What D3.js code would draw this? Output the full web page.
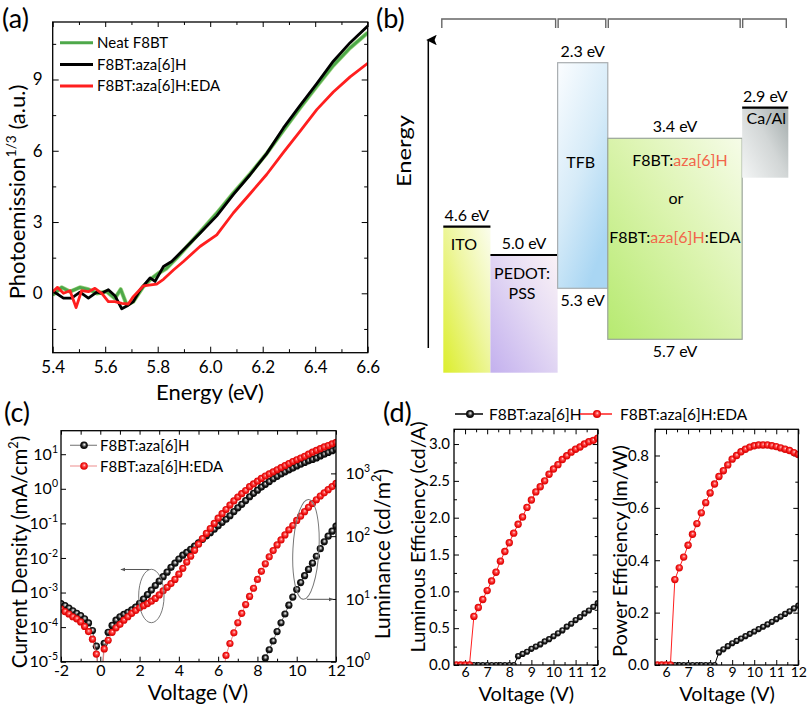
<!DOCTYPE html>
<html><head><meta charset="utf-8">
<script src="https://cdn.jsdelivr.net/npm/d3@7"></script>
<style>
body{margin:0;background:#fff}
svg{display:block}
</style></head><body>
<svg id="fig" width="808" height="705"></svg>
<script>
// ===================== DATA =====================
// (a) photoemission^(1/3) vs energy (eV)
const upsSeriesNames = ['Neat F8BT', 'F8BT:aza[6]H', 'F8BT:aza[6]H:EDA'];
const upsNeatE = [5.40,5.434,5.466,5.504,5.536,5.568,5.606,5.637,5.659,5.682,5.707,5.745,5.777,5.802,5.834,5.872,5.961,6.025,6.088,6.152,6.215,6.279,6.342,6.406,6.469,6.533,6.60];
const upsNeatY = [-0.07,0.25,0.07,0.25,0.17,0.0,0.07,-0.21,0.17,-0.49,-0.35,0.28,0.63,0.84,1.05,1.48,2.57,3.37,4.22,5.03,5.88,6.86,7.80,8.72,9.59,10.33,10.97];
const upsAzaE = [5.40,5.441,5.472,5.504,5.536,5.568,5.587,5.612,5.637,5.663,5.688,5.707,5.733,5.771,5.790,5.822,5.853,5.898,5.961,6.025,6.088,6.152,6.215,6.279,6.342,6.406,6.469,6.533,6.60];
const upsAzaY = [0.10,-0.20,-0.20,0.05,-0.20,0.05,0.00,0.15,-0.10,-0.65,-0.50,-0.35,0.15,0.65,0.50,1.13,1.34,1.83,2.53,3.26,4.15,4.99,5.88,6.96,7.90,8.83,9.77,10.55,11.25];
const upsEdaE = [5.40,5.418,5.441,5.466,5.489,5.510,5.536,5.561,5.587,5.612,5.637,5.663,5.688,5.707,5.745,5.796,5.822,5.860,5.898,5.961,6.025,6.088,6.152,6.215,6.279,6.342,6.406,6.469,6.533,6.60];
const upsEdaY = [0.07,0.25,0.00,0.11,-0.60,0.11,0.07,0.21,0.00,-0.35,-0.35,-0.42,-0.45,-0.14,0.31,0.39,0.59,0.98,1.34,1.97,2.46,3.38,4.19,5.00,5.93,6.82,7.73,8.47,9.11,9.68];
const upsXTicks = [5.4,5.6,5.8,6.0,6.2,6.4,6.6];
const upsXMinor = [5.5,5.7,5.9,6.1,6.3,6.5];
const upsYTicks = [0,3,6,9];
const upsYMinor = [-1.5,1.5,4.5,7.5,10.5];

// (b) energy levels (eV)
const layerNames = ['ITO', 'PEDOT:PSS', 'TFB', 'F8BT blend', 'Ca/Al'];
const layerUpper = [4.6, 5.0, 2.3, 3.4, 2.9];
const layerLower = [null, null, 5.3, 5.7, null];

// (c) J-V-L : voltage grid and log10 values
const jvVoltage = [-2,-1.8,-1.6,-1.4,-1.2,-1,-0.8,-0.6,-0.4,-0.2,0,0.2,0.4,0.6,0.8,1,1.2,1.4,1.6,1.8,2,2.2,2.4,2.6,2.8,3,3.2,3.4,3.6,3.8,4,4.2,4.4,4.6,4.8,5,5.2,5.4,5.6,5.8,6,6.2,6.4,6.6,6.8,7,7.2,7.4,7.6,7.8,8,8.2,8.4,8.6,8.8,9,9.2,9.4,9.6,9.8,10,10.2,10.4,10.6,10.8,11,11.2,11.4,11.6,11.8,12];
const jAzaLog = [-3.32,-3.38,-3.45,-3.53,-3.60,-3.67,-3.76,-3.88,-4.10,-4.55,-6,-4.47,-4.15,-3.95,-3.80,-3.70,-3.63,-3.57,-3.50,-3.42,-3.31,-3.19,-3.06,-2.93,-2.80,-2.67,-2.54,-2.41,-2.27,-2.15,-2.03,-1.92,-1.84,-1.75,-1.66,-1.56,-1.46,-1.36,-1.27,-1.17,-1.07,-0.97,-0.88,-0.78,-0.66,-0.55,-0.45,-0.34,-0.23,-0.13,-0.04,0.05,0.13,0.21,0.29,0.36,0.43,0.49,0.55,0.60,0.66,0.71,0.76,0.81,0.85,0.89,0.95,1.00,1.05,1.10,1.15];
const jEdaLog = [-3.48,-3.55,-3.62,-3.70,-3.76,-3.85,-3.98,-4.13,-4.35,-4.78,-6,-4.63,-4.38,-4.15,-4.02,-3.92,-3.80,-3.70,-3.60,-3.52,-3.44,-3.38,-3.32,-3.25,-3.17,-3.07,-2.95,-2.85,-2.74,-2.62,-2.47,-2.30,-2.12,-1.95,-1.78,-1.60,-1.44,-1.29,-1.15,-1.00,-0.85,-0.72,-0.60,-0.47,-0.35,-0.24,-0.14,-0.05,0.06,0.14,0.22,0.30,0.37,0.43,0.49,0.55,0.61,0.67,0.73,0.79,0.84,0.89,0.94,1.00,1.06,1.11,1.16,1.21,1.25,1.30,1.34];
const lEdaVoltage = [6.2,6.4,6.6,6.8,7,7.2,7.4,7.6,7.8,8,8.2,8.4,8.6,8.8,9,9.2,9.4,9.6,9.8,10,10.2,10.4,10.6,10.8,11,11.2,11.4,11.6,11.8,12];
const lEdaLog = [-0.35,0.10,0.29,0.46,0.62,0.77,0.91,1.04,1.17,1.31,1.44,1.56,1.67,1.77,1.86,1.94,2.02,2.10,2.17,2.25,2.32,2.39,2.46,2.52,2.58,2.64,2.69,2.74,2.79,2.84];
const lAzaVoltage = [8.2,8.4,8.6,8.8,9,9.2,9.4,9.6,9.8,10,10.2,10.4,10.6,10.8,11,11.2,11.4,11.6,11.8,12];
const lAzaLog = [-0.40,0.06,0.19,0.33,0.48,0.62,0.76,0.90,1.03,1.15,1.26,1.37,1.47,1.57,1.68,1.80,1.91,2.00,2.08,2.16];
const jvXTicks = [-2,0,2,4,6,8,10,12];
const jvXMinor = [-1,1,3,5,7,9,11];
const jTicks = [1e-5,1e-4,1e-3,1e-2,1e-1,1,10];
const lTicks = [1,10,100,1000];

// (d) efficiencies
const effAzaVoltage = [5.6,5.8,6,6.2,6.4,6.6,6.8,7,7.2,7.4,7.6,7.8,8,8.2,8.4,8.6,8.8,9,9.2,9.4,9.6,9.8,10,10.2,10.4,10.6,10.8,11,11.2,11.4,11.6,11.8,12];
const leAza = [0,0,0,0,0,0,0,0,0,0,0,0,0,0,0.12,0.15,0.18,0.22,0.25,0.28,0.32,0.35,0.39,0.43,0.47,0.52,0.56,0.61,0.65,0.70,0.74,0.79,0.84];
const peAza = [0,0,0,0,0,0,0,0,0,0,0,0,0,0,0.048,0.060,0.072,0.083,0.092,0.101,0.110,0.119,0.128,0.137,0.146,0.155,0.165,0.175,0.185,0.195,0.205,0.216,0.227];
const effEdaVoltage = [5.6,5.8,6,6.2,6.4,6.6,6.8,7,7.2,7.4,7.6,7.8,8,8.2,8.4,8.6,8.8,9,9.2,9.4,9.6,9.8,10,10.2,10.4,10.6,10.8,11,11.2,11.4,11.6,11.8,12];
const leEda = [0,0,0,0,0.66,0.78,0.89,1.01,1.14,1.26,1.41,1.54,1.66,1.79,1.91,2.01,2.14,2.24,2.35,2.42,2.50,2.59,2.66,2.72,2.79,2.84,2.89,2.93,2.96,3.00,3.03,3.05,3.08];
const peEda = [0,0,0,0,0.326,0.371,0.412,0.457,0.499,0.540,0.581,0.620,0.657,0.691,0.720,0.742,0.764,0.786,0.800,0.814,0.824,0.832,0.837,0.840,0.840,0.840,0.837,0.834,0.829,0.824,0.819,0.811,0.804];
const effXTicks = [6,7,8,9,10,11,12];
const effXMinor = [5.5,6.5,7.5,8.5,9.5,10.5,11.5];
const leTicks = [0,0.5,1,1.5,2,2.5,3];
const leMinor = [0.25,0.75,1.25,1.75,2.25,2.75];
const peTicks = [0,0.2,0.4,0.6,0.8];
const peMinor = [0.1,0.3,0.5,0.7];
const devNames = ['F8BT:aza[6]H', 'F8BT:aza[6]H:EDA'];

// ===================== STYLE / HELPERS =====================
const FONT = "Lato, 'Open Sans', sans-serif";
const RED = '#ff1f1f', GREEN = '#4ea84a', BLACK = '#000', ACCENT = '#f2664a';
const svg = d3.select('#fig').attr('font-family', FONT);
svg.append('rect').attr('width',808).attr('height',705).attr('fill','#fff');
const defs = svg.append('defs');

function clip(id, x0, y0, x1, y1) {
  defs.append('clipPath').attr('id', id).append('rect')
    .attr('x', x0).attr('y', y0).attr('width', x1 - x0).attr('height', y1 - y0);
  return `url(#${id})`;
}
function addAxis(parent, orient, scale, pos, values, size, fmt, pad, fs) {
  const maker = {bottom: d3.axisBottom, top: d3.axisTop, left: d3.axisLeft, right: d3.axisRight}[orient];
  const gen = maker(scale).tickValues(values).tickSizeInner(-size).tickSizeOuter(0)
    .tickPadding(pad || 0).tickFormat(fmt || (() => ''));
  const tr = (orient === 'bottom' || orient === 'top') ? `translate(0,${pos})` : `translate(${pos},0)`;
  const g = parent.append('g').attr('transform', tr).call(gen)
    .attr('font-family', FONT).attr('font-size', fs || 16);
  g.select('.domain').remove();
  g.selectAll('line').attr('stroke', '#000').attr('stroke-width', 1);
  g.selectAll('text').attr('fill', '#000');
  if (!fmt) g.selectAll('text').remove();
  return g;
}
function powLabels(g, sup) {
  g.selectAll('.tick text').each(function (d) {
    const t = d3.select(this); t.text(null);
    t.append('tspan').text('10');
    t.append('tspan').attr('dy', -7).attr('font-size', sup).text(Math.round(Math.log10(d)));
  });
}
function rotTitle(parent, x, y, segs, size) {
  const t = parent.append('text').attr('transform', `translate(${x},${y}) rotate(-90)`)
    .attr('text-anchor', 'middle').attr('font-size', size).attr('fill', '#000');
  let shifted = false;
  segs.forEach(s => {
    const sp = t.append('tspan').text(s.t);
    if (s.sup) { sp.attr('font-size', size * 0.62).attr('dy', -size * 0.42); shifted = true; }
    else if (shifted) { sp.attr('dy', size * 0.42); shifted = false; }
  });
  return t;
}
function frame(parent, x0, y0, x1, y1) {
  parent.append('rect').attr('x', x0).attr('y', y0).attr('width', x1 - x0).attr('height', y1 - y0)
    .attr('fill', 'none').attr('stroke', '#000').attr('stroke-width', 1.3);
}
function panelLabel(txt, x, y) {
  svg.append('text').attr('x', x).attr('y', y).attr('font-size', 27).attr('fill', '#000').text(txt);
}
// ball-like marker gradients
function ball(id, stops) {
  const g = defs.append('radialGradient').attr('id', id).attr('cx', '50%').attr('cy', '50%').attr('r', '55%')
    .attr('fx', '55%').attr('fy', '38%');
  stops.forEach(s => g.append('stop').attr('offset', s[0]).attr('stop-color', s[1]));
}
ball('ballRed', [['0%', '#ffe6e6'], ['28%', '#ff5a5a'], ['65%', '#f01010'], ['100%', '#c80000']]);
ball('ballBlack', [['0%', '#ffffff'], ['25%', '#9a9a9a'], ['55%', '#1c1c1c'], ['100%', '#000000']]);

// ===================== PANEL (a) =====================
const gA = svg.append('g');
const xA = d3.scaleLinear().domain([5.4, 6.6]).range([52.7, 367.7]);
const yA = d3.scaleLinear().domain([-2.5, 11.42]).range([352.7, 22]);
addAxis(gA, 'bottom', xA, yA.range()[0], upsXTicks, 6, d => d.toFixed(1), 8.5, 17);
addAxis(gA, 'bottom', xA, yA.range()[0], upsXMinor, 3.5);
addAxis(gA, 'top', xA, yA.range()[1], upsXTicks, 5);
addAxis(gA, 'top', xA, yA.range()[1], upsXMinor, 3);
addAxis(gA, 'left', yA, xA.range()[0], upsYTicks, 6, d => d, 10, 17);
addAxis(gA, 'left', yA, xA.range()[0], upsYMinor, 3.5);
addAxis(gA, 'right', yA, xA.range()[1], upsYTicks, 6);
addAxis(gA, 'right', yA, xA.range()[1], upsYMinor, 3.5);
const clipA = clip('clipA', 52.7, 22, 367.7, 352.7);
const lineA = d3.line().x(d => xA(d[0])).y(d => yA(d[1]));
const upsSeries = [
  {name: upsSeriesNames[0], e: upsNeatE, y: upsNeatY, color: GREEN},
  {name: upsSeriesNames[1], e: upsAzaE, y: upsAzaY, color: BLACK},
  {name: upsSeriesNames[2], e: upsEdaE, y: upsEdaY, color: RED}
];
const pathsA = gA.append('g').attr('clip-path', clipA);
upsSeries.forEach(s => {
  if (s.color === GREEN)
    pathsA.append('path').attr('d', lineA(d3.zip(s.e, s.y))).attr('fill', 'none')
      .attr('stroke', '#9bd47e').attr('stroke-width', 4.2).attr('stroke-linejoin', 'round');
  pathsA.append('path').attr('d', lineA(d3.zip(s.e, s.y))).attr('fill', 'none')
    .attr('stroke', s.color).attr('stroke-width', 2.8).attr('stroke-linejoin', 'round');
});
frame(gA, 52.7, 22, 367.7, 352.7);
const legA = gA.append('g');
upsSeries.forEach((s, i) => {
  const y = 42.7 + i * 21.7;
  legA.append('line').attr('x1', 60).attr('x2', 93).attr('y1', y).attr('y2', y)
    .attr('stroke', s.color).attr('stroke-width', 3);
  legA.append('text').attr('x', 97).attr('y', y + 5.3).attr('font-size', 15).text(s.name);
});
gA.append('text').attr('x', 210).attr('y', 400).attr('text-anchor', 'middle').attr('font-size', 22).text('Energy (eV)');
rotTitle(gA, 25, 192, [{t: 'Photoemission'}, {t: '1/3', sup: true}, {t: ' (a.u.)'}], 22);
panelLabel('(a)', 2, 28);

// ===================== PANEL (b) =====================
const gB = svg.append('g');
panelLabel('(b)', 376, 28);
const yB = d3.scaleLinear().domain([2.3, 2.9, 3.4, 4.6, 5.0, 5.3, 5.7])
  .range([62.7, 107.7, 138.3, 226.7, 255, 288.3, 339.3]);   // schematic (not to scale)
const layerWidthUnits = [47, 67, 50, 134, 46];
const cum = [0]; layerWidthUnits.forEach(w => cum.push(cum[cum.length - 1] + w));
const xB = d3.scaleLinear().domain([0, cum[cum.length - 1]]).range([443.3, 788.3]);
const panelBottom = 372.7, metalDepth = 70;
function lin(id, x1, y1, x2, y2, stops) {
  const g = defs.append('linearGradient').attr('id', id).attr('x1', x1).attr('y1', y1).attr('x2', x2).attr('y2', y2);
  stops.forEach(s => g.append('stop').attr('offset', s[0]).attr('stop-color', s[1]));
  return `url(#${id})`;
}
const fills = [
  lin('gITO', 0, 1, 1, 0, [['0%', '#dcee2c'], ['55%', '#eef6a0'], ['100%', '#fbfdee']]),
  lin('gPED', 0, 1, 1, 0, [['0%', '#c3b0ee'], ['60%', '#e6dcf4'], ['100%', '#faf2f6']]),
  lin('gTFB', 0, 0, 0.6, 1, [['0%', '#fbfdff'], ['55%', '#d6ebf8'], ['100%', '#a9d6f3']]),
  lin('gEML', 0, 1, 1, 0, [['0%', '#b6ea70'], ['55%', '#dcf4b0'], ['100%', '#f6fce8']]),
  lin('gMET', 0, 1, 1, 0.2, [['0%', '#f3f5f5'], ['60%', '#d2d6d6'], ['100%', '#aab2b2']])
];
const borders = [null, null, '#a8adb0', '#9aa59a', null];
layerNames.forEach((n, i) => {
  const x0 = xB(cum[i]), x1 = xB(cum[i + 1]);
  const top = yB(layerUpper[i]);
  const bot = layerLower[i] != null ? yB(layerLower[i]) : (n === 'Ca/Al' ? top + metalDepth : panelBottom);
  gB.append('rect').attr('x', x0).attr('y', top).attr('width', x1 - x0).attr('height', bot - top)
    .attr('fill', fills[i]).attr('stroke', borders[i] || 'none').attr('stroke-width', borders[i] ? 1.2 : 0);
  if (!borders[i]) {
    gB.append('line').attr('x1', x0).attr('x2', x1).attr('y1', top).attr('y2', top)
      .attr('stroke', '#000').attr('stroke-width', 2.2);
  }
  const cx = (x0 + x1) / 2;
  gB.append('text').attr('x', cx).attr('y', top - 6).attr('text-anchor', 'middle').attr('font-size', 16)
    .text(layerUpper[i].toFixed(1) + ' eV');
  if (layerLower[i] != null)
    gB.append('text').attr('x', cx).attr('y', bot + 18).attr('text-anchor', 'middle').attr('font-size', 16)
      .text(layerLower[i].toFixed(1) + ' eV');
});
// inner labels
(function () {
  const c = i => (xB(cum[i]) + xB(cum[i + 1])) / 2;
  const t = (x, y, s) => gB.append('text').attr('x', x).attr('y', y).attr('text-anchor', 'middle').attr('font-size', 16).text(s);
  t(c(0) - 3, yB(layerUpper[0]) + 23, 'ITO');
  t(c(1) - 2, yB(layerUpper[1]) + 24, 'PEDOT:');
  t(c(1) - 2, yB(layerUpper[1]) + 44, 'PSS');
  t(c(2) - 2, yB(layerUpper[2]) + 105, 'TFB');
  t(c(4) + 1, yB(layerUpper[4]) + 16, 'Ca/Al');
  const top3 = yB(layerUpper[3]);
  const a = gB.append('text').attr('x', c(3) + 5).attr('y', top3 + 27.5).attr('text-anchor', 'middle').attr('font-size', 16);
  a.append('tspan').text('F8BT:'); a.append('tspan').attr('fill', ACCENT).text('aza[6]H');
  t(c(3) + 1, top3 + 66, 'or');
  const b = gB.append('text').attr('x', c(3)).attr('y', top3 + 105).attr('text-anchor', 'middle').attr('font-size', 16);
  b.append('tspan').text('F8BT:'); b.append('tspan').attr('fill', ACCENT).text('aza[6]H'); b.append('tspan').text(':EDA');
})();
// brackets at top
[[0, 2], [2, 3], [3, 4], [4, 5]].forEach(([a, b]) => {
  const x0 = xB(cum[a]) - 1.5 + (a ? 2 : 0), x1 = xB(cum[b]) - 2;
  gB.append('path').attr('d', `M${x0},28V19H${x1}V28`).attr('fill', 'none').attr('stroke', '#666').attr('stroke-width', 1.4);
});
// energy arrow
defs.append('marker').attr('id', 'arrUp').attr('viewBox', '0 0 10 10').attr('refX', 5).attr('refY', 2)
  .attr('markerWidth', 7).attr('markerHeight', 7).attr('orient', 'auto-start-reverse')
  .append('path').attr('d', 'M0,10L5,0L10,10L5,8Z').attr('fill', '#000');
gB.append('line').attr('x1', 428.3).attr('x2', 428.3).attr('y1', 348).attr('y2', 40)
  .attr('stroke', '#000').attr('stroke-width', 1.5).attr('marker-end', 'url(#arrUp)');
gB.append('text').attr('transform', 'translate(411,151) rotate(-90)').attr('text-anchor', 'middle')
  .attr('font-size', 19.5).attr('textLength', 72).attr('lengthAdjust', 'spacingAndGlyphs').text('Energy');

// ===================== PANEL (c) =====================
const gC = svg.append('g');
panelLabel('(c)', 4, 422);
const xC = d3.scaleLinear().domain([-2, 12]).range([61, 336]);
const yJ = d3.scaleLog().domain([1e-5, Math.pow(10, 1.68)]).range([661.7, 430.7]);
const yL = d3.scaleLog().domain([1, Math.pow(10, 3.68)]).range([661.7, 430.7]);
const cB = 661.7, cT = 430.7;
addAxis(gC, 'bottom', xC, cB, jvXTicks, 5, d => d, 3.2, 16);
addAxis(gC, 'bottom', xC, cB, jvXMinor, 3);
addAxis(gC, 'top', xC, cT, jvXTicks, 4);
addAxis(gC, 'top', xC, cT, jvXMinor, 4);
const cl = addAxis(gC, 'left', yJ, 61, jTicks, 5, d => d, 3, 16); powLabels(cl, 10.5);
const cr = addAxis(gC, 'right', yL, 336, lTicks, 5, d => d, 9.5, 16); powLabels(cr, 10.5);
const clipC = clip('clipC', 61, 430.7, 336, 661.7);
const plotC = gC.append('g').attr('clip-path', clipC);
function series(parent, xs, ys, xS, yS, lineColor, fill, r) {
  const pts = d3.zip(xs, ys);
  parent.append('path').attr('d', d3.line().x(d => xS(d[0])).y(d => yS(d[1]))(pts))
    .attr('fill', 'none').attr('stroke', lineColor).attr('stroke-width', 1);
  parent.append('g').selectAll('circle').data(pts).join('circle')
    .attr('cx', d => xS(d[0])).attr('cy', d => yS(d[1])).attr('r', r).attr('fill', fill);
}
const pw = a => a.map(v => Math.pow(10, v));
series(plotC, jvVoltage, pw(jAzaLog), xC, yJ, '#777', 'url(#ballBlack)', 3.6);
series(plotC, jvVoltage, pw(jEdaLog), xC, yJ, '#e88', 'url(#ballRed)', 3.6);
series(plotC, lEdaVoltage, pw(lEdaLog), xC, yL, '#e88', 'url(#ballRed)', 3.6);
series(plotC, lAzaVoltage, pw(lAzaLog), xC, yL, '#777', 'url(#ballBlack)', 3.6);
frame(gC, 61, 430.7, 336, 661.7);
// annotations: ellipses + arrows
defs.append('marker').attr('id', 'arrG').attr('viewBox', '0 0 10 10').attr('refX', 9).attr('refY', 5)
  .attr('markerWidth', 5).attr('markerHeight', 5).attr('orient', 'auto')
  .append('path').attr('d', 'M0,1L10,5L0,9Z').attr('fill', '#555');
const e1 = {v: 2.6, j: Math.pow(10, -3.1)}, e2 = {v: 10.47, j: Math.pow(10, -1.75)};
gC.append('ellipse').attr('cx', xC(e1.v)).attr('cy', yJ(e1.j)).attr('rx', 12.7).attr('ry', 26.7)
  .attr('fill', 'none').attr('stroke', '#777').attr('stroke-width', 1);
gC.append('line').attr('x1', xC(e1.v) - 2).attr('x2', xC(1.05)).attr('y1', yJ(e1.j) - 26.5).attr('y2', yJ(e1.j) - 26.5)
  .attr('stroke', '#555').attr('stroke-width', 1).attr('marker-end', 'url(#arrG)');
gC.append('ellipse').attr('cx', xC(e2.v)).attr('cy', yJ(e2.j)).attr('rx', 13).attr('ry', 50)
  .attr('fill', 'none').attr('stroke', '#777').attr('stroke-width', 1)
  .attr('transform', `rotate(3,${xC(e2.v)},${yJ(e2.j)})`);
gC.append('line').attr('x1', xC(e2.v) + 1).attr('x2', xC(11.85)).attr('y1', yJ(e2.j) + 50).attr('y2', yJ(e2.j) + 50)
  .attr('stroke', '#555').attr('stroke-width', 1).attr('marker-end', 'url(#arrG)');
// legend (c)
[[devNames[0], '#888', 'url(#ballBlack)'], [devNames[1], '#f0a0a0', 'url(#ballRed)']].forEach((s, i) => {
  const y = 445.3 + i * 20.7;
  gC.append('line').attr('x1', 70).attr('x2', 97).attr('y1', y).attr('y2', y).attr('stroke', s[1]).attr('stroke-width', 1.2);
  gC.append('circle').attr('cx', 84).attr('cy', y).attr('r', 3.8).attr('fill', s[2]);
  gC.append('text').attr('x', 100).attr('y', y + 5.5).attr('font-size', 15).text(s[0]);
});
gC.append('text').attr('x', 198).attr('y', 700.3).attr('text-anchor', 'middle').attr('font-size', 21).text('Voltage (V)');
rotTitle(gC, 27, 552, [{t: 'Current Density (mA/cm'}, {t: '2', sup: true}, {t: ')'}], 20.5);
rotTitle(gC, 390, 554, [{t: 'Luminance (cd/m'}, {t: '2', sup: true}, {t: ')'}], 21);

// ===================== PANEL (d) =====================
const gD = svg.append('g');
panelLabel('(d)', 383, 422);
const dT = 429.3, dB = 665;
const xD1 = d3.scaleLinear().domain([5.5, 12]).range([454, 597.7]);
const xD2 = d3.scaleLinear().domain([5.5, 12]).range([655, 798.3]);
const yLE = d3.scaleLinear().domain([0, 3.2]).range([dB, dT]);
const yPE = d3.scaleLinear().domain([0, 0.9]).range([dB, dT]);
function effPanel(xS, yS, ticks, minor, fmt, pad, vals1, vals2, id) {
  const [x0, x1] = xS.range();
  addAxis(gD, 'bottom', xS, dB, effXTicks, 5, d => d, 2.5, 14);
  addAxis(gD, 'bottom', xS, dB, effXMinor, 3);
  addAxis(gD, 'top', xS, dT, effXTicks, 5);
  addAxis(gD, 'top', xS, dT, effXMinor, 3);
  addAxis(gD, 'left', yS, x0, ticks, 5, fmt, pad, 15);
  addAxis(gD, 'left', yS, x0, minor, 3);
  addAxis(gD, 'right', yS, x1, ticks, 5);
  addAxis(gD, 'right', yS, x1, minor, 3);
  const p = gD.append('g').attr('clip-path', clip(id, x0, dT, x1, dB));
  series(p, effAzaVoltage, vals1, xS, yS, '#000', 'url(#ballBlack)', 3.1);
  series(p, effEdaVoltage, vals2, xS, yS, RED, 'url(#ballRed)', 3.7);
  frame(gD, x0, dT, x1, dB);
  gD.append('text').attr('x', (x0 + x1) / 2 + 0.5).attr('y', 700.5).attr('text-anchor', 'middle').attr('font-size', 20).text('Voltage (V)');
}
effPanel(xD1, yLE, leTicks, leMinor, d => d.toFixed(1), 4, leAza, leEda, 'clipD1');
effPanel(xD2, yPE, peTicks, peMinor, d => d.toFixed(1), 6, peAza, peEda, 'clipD2');
rotTitle(gD, 425, 537, [{t: 'Luminous Efficiency (cd/A)'}], 20);
rotTitle(gD, 626.5, 551, [{t: 'Power Efficiency (lm/W)'}], 20);
// legend (d)
[[devNames[0], '#000', 'url(#ballBlack)', 455, 483, 470, 489], [devNames[1], RED, 'url(#ballRed)', 580, 612, 597, 620]].forEach(s => {
  gD.append('line').attr('x1', s[3]).attr('x2', s[4]).attr('y1', 414).attr('y2', 414).attr('stroke', s[1]).attr('stroke-width', 1.5);
  gD.append('circle').attr('cx', s[5]).attr('cy', 414).attr('r', 4).attr('fill', s[2]);
  gD.append('text').attr('x', s[6]).attr('y', 419.5).attr('font-size', 15.5).text(s[0]);
});
</script>
</body></html>
